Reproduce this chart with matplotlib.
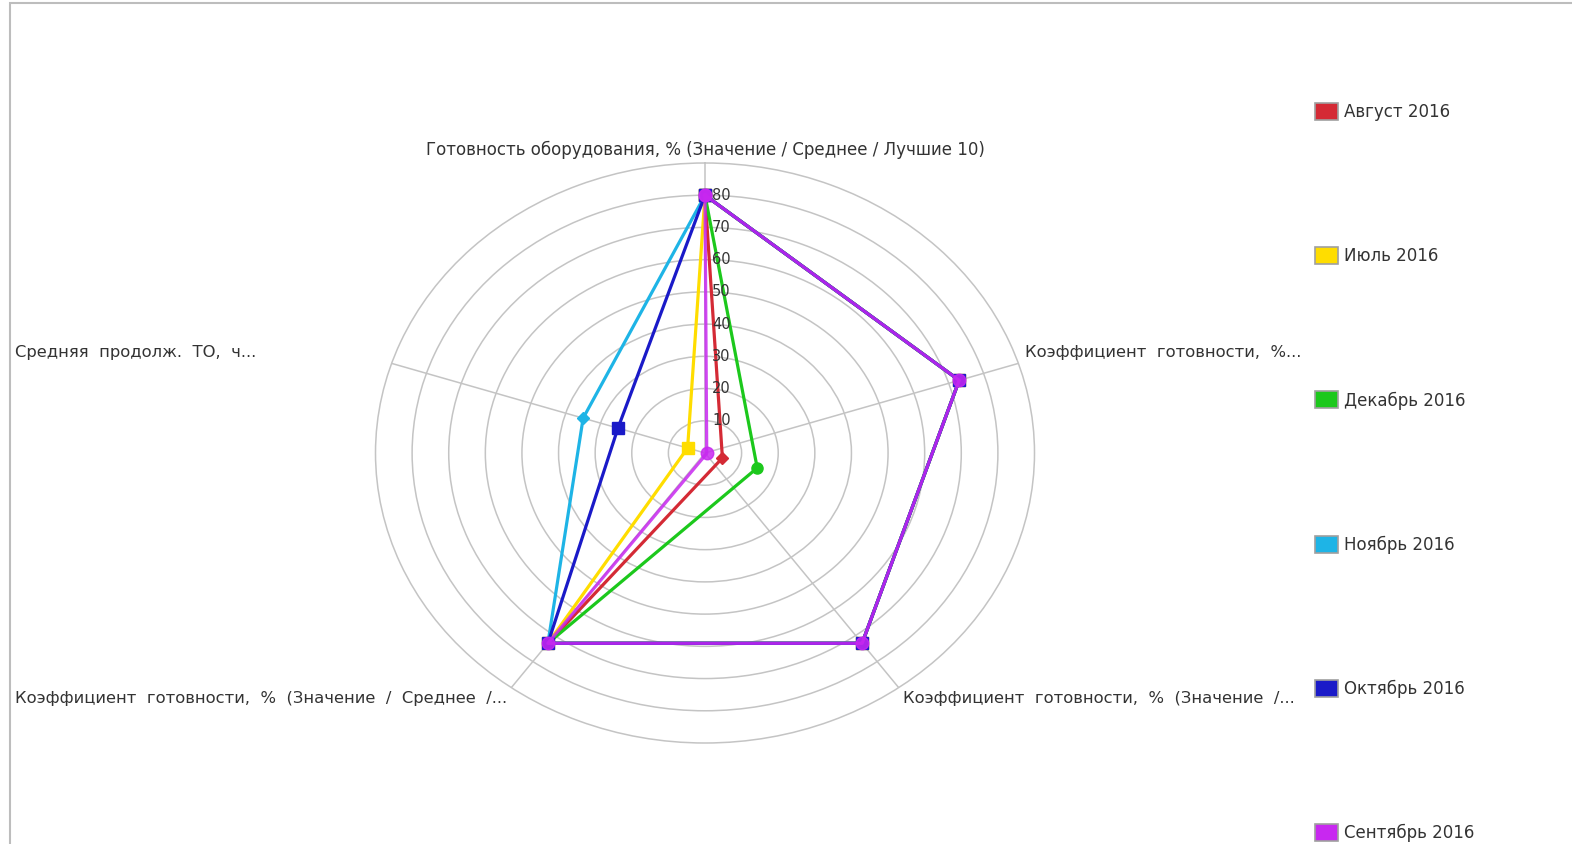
import numpy as np
import matplotlib
matplotlib.use("Agg")
import matplotlib.pyplot as plt
from matplotlib.patches import Patch, Rectangle

# Оси радара (по часовой стрелке от верхней)
axis_labels = [
    "Готовность оборудования, % (Значение / Среднее / Лучшие 10)",
    "Коэффициент  готовности,  %...",
    "Коэффициент  готовности,  %  (Значение  /...",
    "Коэффициент  готовности,  %  (Значение  /  Среднее  /...",
    "Средняя  продолж.  ТО,  ч...",
]

series_names = ["Август 2016", "Июль 2016", "Декабрь 2016",
                "Ноябрь 2016", "Октябрь 2016", "Сентябрь 2016"]

avg_2016_aug = [80, 73, 73, 73, -5]
avg_2016_jul = [80, 73, 73, 73, 5]
avg_2016_dec = [80, 73, 73, 73, -15]
avg_2016_nov = [80, 73, 73, 73, 35]
avg_2016_oct = [80, 73, 73, 73, 25]
avg_2016_sep = [80, 73, 73, 73, -0.5]

series_values = [avg_2016_aug, avg_2016_jul, avg_2016_dec,
                 avg_2016_nov, avg_2016_oct, avg_2016_sep]

colors = ["#D42A35", "#FFDD00", "#1CC81C", "#1EB4E6", "#1A1AC8", "#C828F0"]
markers = ["D", "s", "o", "D", "s", "o"]
marker_sizes = [6, 9, 8, 6, 9, 9]

r_ticks = [10, 20, 30, 40, 50, 60, 70, 80]
r_max = 90

plt.rcParams["font.family"] = ["DejaVu Sans"]
TEXT = "#333333"
GRID = "#c4c4c4"

W, H = 1572, 844
fig = plt.figure(figsize=(W / 100, H / 100), dpi=100)

# рамка
fig.patches.append(Rectangle((10 / W, -0.1), 1.2, (H - 3) / H + 0.1,
                             transform=fig.transFigure, fill=False,
                             edgecolor="#bdbdbd", linewidth=1.5))

cx, cy = 705, 453
rx, ry = 329.5, 290
ax = fig.add_axes([(cx - rx) / W, (H - cy - ry) / H, 2 * rx / W, 2 * ry / H],
                  projection="polar")
ax.set_aspect("auto")
ax.set_theta_offset(np.pi / 2)
ax.set_theta_direction(-1)
ax.set_ylim(0, r_max)

n = len(axis_labels)
angles = np.arange(n) * 2 * np.pi / n
ax.set_xticks(angles)
ax.set_xticklabels([])
ax.set_yticks(r_ticks)
ax.set_yticklabels([])
ax.grid(True, color=GRID, linewidth=1.1)
ax.spines["polar"].set_color(GRID)
ax.spines["polar"].set_linewidth(1.1)
ax.patch.set_alpha(0)

for v in r_ticks:
    ax.annotate(str(v), xy=(0, v), xytext=(5, 0), textcoords="offset points",
                ha="left", va="center", fontsize=10.5, color=TEXT, zorder=10)

for vals, color, mk, ms in zip(series_values, colors, markers, marker_sizes):
    # отрицательные значения рисуются через центр, на противоположной стороне
    th = np.array([a if v >= 0 else a + np.pi for a, v in zip(angles, vals)])
    rr = np.abs(np.array(vals, dtype=float))
    th = np.append(th, th[0])
    rr = np.append(rr, rr[0])
    alpha = 0.85 if color == "#C828F0" else 1.0
    ax.plot(th, rr, color=color, linewidth=2.3, marker=mk, markersize=ms,
            alpha=alpha, clip_on=False)

fig.text(cx / W, 1 - 150 / H, axis_labels[0], ha="center", va="center",
         fontsize=12, color=TEXT)
label_pos = [(1025, 352), (903, 699), (15, 699), (15, 352)]
for label, (x, y) in zip(axis_labels[1:], label_pos):
    fig.text(x / W, 1 - y / H, label, ha="left", va="center",
             fontsize=11.8, color=TEXT)

handles = [Patch(facecolor=c, edgecolor="#a0a0a0", linewidth=1.2)
           for c in colors]
fig.legend(handles, series_names, loc="upper left",
           bbox_to_anchor=(1315 / W, 1 - 103 / H), frameon=False,
           borderpad=0, borderaxespad=0,
           fontsize=12, handlelength=1.35, handleheight=1.2,
           handletextpad=0.4, labelspacing=7.56, labelcolor=TEXT)

fig.savefig("out.png", dpi=100)
